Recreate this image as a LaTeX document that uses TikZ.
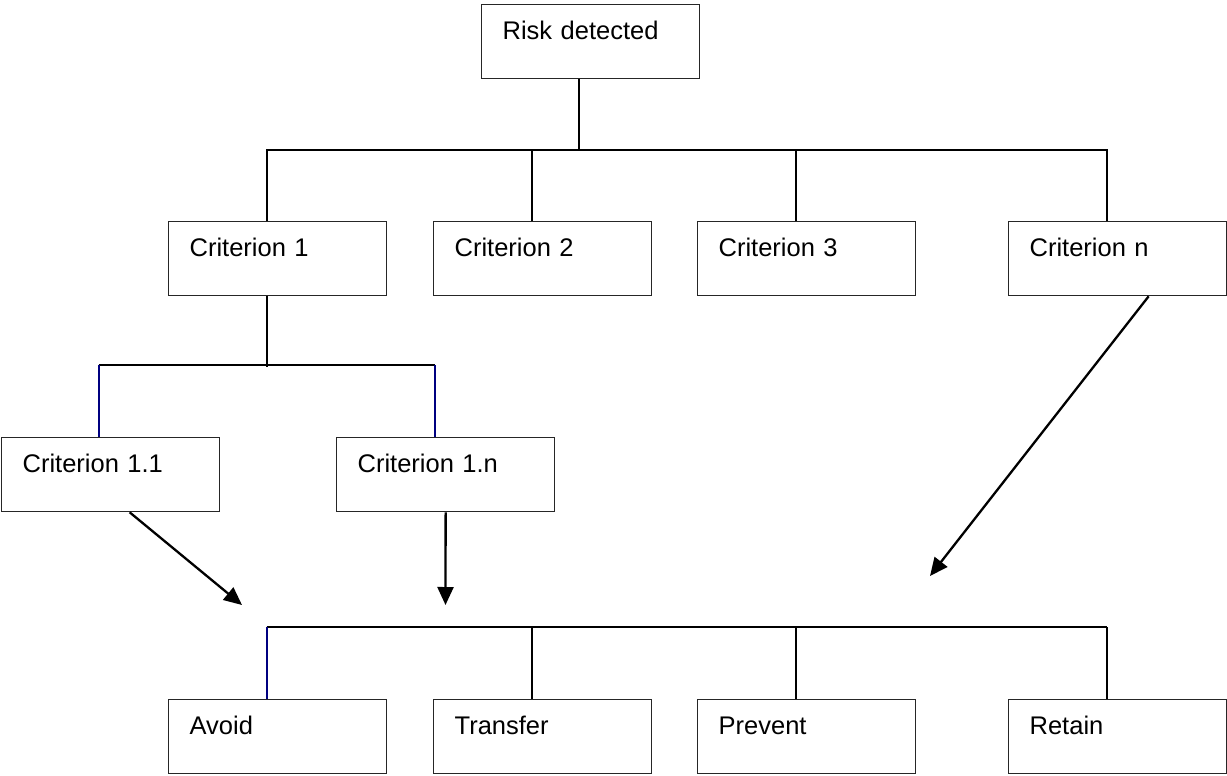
\documentclass[tikz,border=0pt]{standalone}
\usepackage{fontspec}
\setmainfont{Liberation Sans}
\usetikzlibrary{arrows.meta}
\definecolor{navyline}{RGB}{0,0,128}
\begin{document}
\begin{tikzpicture}[x=1pt, y=-1pt,
  box/.style = {shape=rectangle, draw=black!85, line width=1.3pt,
    anchor=north west, align=left, inner xsep=21pt, inner ysep=0pt,
    text width=176pt, text height=35pt, text depth=39pt,
    font=\fontsize{25.5}{30}\selectfont},
  link/.style = {line width=1.9pt},
  arrow/.style = {line width=2.3pt, -{Triangle[length=18pt,width=16pt]}}]
  \useasboundingbox (0,0) rectangle (1227,776);
  % boxes
  \node[box] (risk) at (481,4) {Risk detected};
  \node[box] (c1) at (168,221) {Criterion 1};
  \node[box] (c2) at (433,221) {Criterion 2};
  \node[box] (c3) at (697,221) {Criterion 3};
  \node[box] (cn) at (1008,221) {Criterion n};
  \node[box] (c11) at (1,437) {Criterion 1.1};
  \node[box] (c1n) at (336,437) {Criterion 1.n};
  \node[box] (avoid) at (168,699) {Avoid};
  \node[box] (transfer) at (433,699) {Transfer};
  \node[box] (prevent) at (697,699) {Prevent};
  \node[box] (retain) at (1008,699) {Retain};
  % tree lines
  \draw[link] ([xshift=-12pt]risk.south) -- ++(0,72);
  \draw[link] ([xshift=-11pt]c1.north) -- ++(0,-71) -| ([xshift=-11pt]cn.north);
  \foreach \n in {c2,c3}
    \draw[link] ([xshift=-11pt]\n.north) -- ++(0,-71);
  \draw[link] ([xshift=-11pt]c1.south) -- ++(0,71);
  \draw[link] ([xshift=-12pt,yshift=72pt]c11.north) -- ([xshift=-11pt,yshift=72pt]c1n.north);
  \draw[link, navyline] ([xshift=-12pt]c11.north) -- ++(0,-72);
  \draw[link, navyline] ([xshift=-11pt]c1n.north) -- ++(0,-72);
  \draw[link] ([xshift=-11pt,yshift=72pt]avoid.north) -- ([xshift=-11pt,yshift=72pt]retain.north);
  \draw[link, navyline] ([xshift=-11pt]avoid.north) -- ++(0,-72);
  \foreach \n in {transfer,prevent,retain}
    \draw[link] ([xshift=-11pt]\n.north) -- ++(0,-72);
  % arrows
  \coordinate (in11) at (242,605);
  \coordinate (in1n) at (445.5,605);
  \coordinate (inn) at (930,576);
  \draw[arrow] ([xshift=19pt]c11.south) -- (in11);
  \draw[arrow] (c1n.south) -- (in1n);
  \draw[arrow] ([xshift=31pt]cn.south) -- (inn);
\end{tikzpicture}
\end{document}
